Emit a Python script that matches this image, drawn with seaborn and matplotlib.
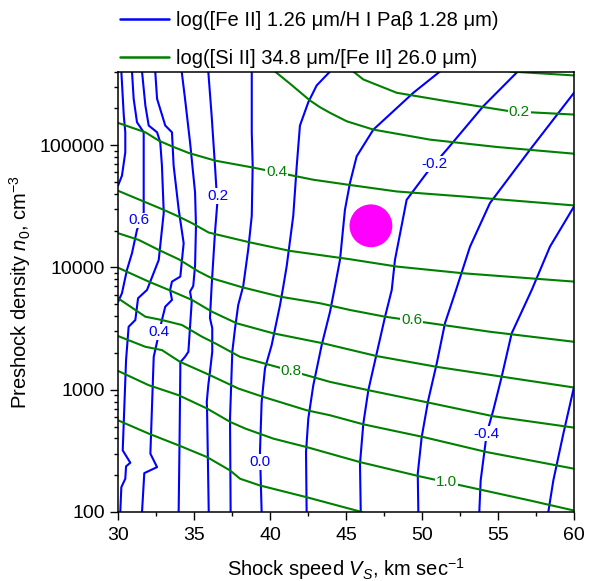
import numpy as np
import pandas as pd
import matplotlib
matplotlib.use("Agg")
import matplotlib.pyplot as plt
from matplotlib.lines import Line2D
from matplotlib.ticker import FixedLocator, FuncFormatter, LogLocator, NullFormatter, MultipleLocator
import seaborn as sns

# ---------------- data ----------------
# Blue contours: log([Fe II] 1.26 um / H I Pa-beta 1.28 um); V in km/s, log10(n0 / cm^-3)
fe_p07_v = [30.22, 30.38, 30.48, 30.48, 30.26, 30.00]
fe_p07_logn = [5.602, 5.242, 5.105, 4.941, 4.750, 4.668]
fe_p06_v = [30.92, 31.03, 31.25, 31.69, 31.69, 31.69, 31.25, 30.92, 30.59, 30.26, 30.00]
fe_p06_logn = [5.602, 5.379, 5.187, 5.105, 4.832, 4.449, 4.307, 4.116, 3.980, 3.789, 3.717]
fe_p05_v = [31.58, 31.80, 32.02, 32.57, 32.78, 32.89, 33.01, 32.68, 31.91, 31.32, 31.14, 30.70,
            30.53, 30.31, 30.81, 30.53, 30.48, 30.22, 30.15]
fe_p05_logn = [5.602, 5.324, 5.160, 5.105, 5.023, 4.832, 4.449, 4.061, 3.816, 3.748, 3.570, 3.515,
               3.242, 2.504, 2.403, 2.373, 2.272, 2.203, 2.000]
fe_p04_v = [32.45, 32.57, 33.11, 33.55, 33.66, 33.99, 34.32, 34.10, 33.55, 33.43, 33.55, 33.11,
            32.89, 32.35, 32.13, 32.57, 31.73, 31.58]
fe_p04_logn = [5.602, 5.379, 5.160, 5.105, 4.832, 4.477, 4.198, 3.925, 3.884, 3.816, 3.734, 3.679,
               3.570, 3.269, 2.477, 2.367, 2.318, 2.000]
fe_p03_v = [34.19, 34.41, 34.74, 35.07, 35.13, 35.07, 34.95, 34.74, 34.85, 34.63, 34.41, 34.10,
            34.10, 34.05, 33.99]
fe_p03_logn = [5.602, 5.379, 5.023, 4.613, 4.340, 4.012, 3.848, 3.802, 3.720, 3.310, 3.269, 3.225,
               3.160, 2.586, 2.000]
fe_p02_v = [35.94, 36.16, 36.38, 36.49, 36.55, 36.38, 36.16, 36.05, 36.20, 36.20, 36.05, 35.94,
            35.84, 35.86, 35.97]
fe_p02_logn = [5.602, 5.242, 4.832, 4.611, 4.553, 4.285, 3.848, 3.586, 3.504, 3.310, 3.146, 3.037,
               2.900, 2.832, 2.000]
fe_p01_v = [38.80, 38.80, 38.86, 38.80, 38.57, 38.24, 37.91, 37.70, 37.52, 37.37, 37.41]
fe_p01_logn = [5.602, 5.105, 4.832, 4.422, 4.149, 3.848, 3.693, 3.502, 3.310, 2.764, 2.000]
fe_00_v = [43.95, 43.07, 42.52, 41.97, 41.76, 41.53, 41.10, 40.88, 40.66, 40.11, 39.67, 39.45,
           39.34, 39.45]
fe_00_logn = [5.602, 5.488, 5.351, 5.160, 4.832, 4.422, 4.012, 3.848, 3.693, 3.365, 3.174, 2.900,
              2.490, 2.000]
fe_m01_v = [51.18, 49.43, 46.80, 45.70, 45.26, 44.93, 44.61, 44.28, 43.95, 43.40, 42.85, 42.52,
            42.37, 42.41]
fe_m01_logn = [5.602, 5.428, 5.127, 4.908, 4.690, 4.471, 4.067, 3.848, 3.638, 3.365, 3.037, 2.764,
               2.490, 2.000]
fe_m02_v = [56.30, 54.03, 51.63, 50.81, 50.31, 48.99, 48.22, 48.01, 47.57, 47.02, 46.47, 46.14,
            45.92, 45.97]
fe_m02_logn = [5.602, 5.318, 4.963, 4.846, 4.772, 4.553, 4.061, 3.816, 3.597, 3.297, 2.996, 2.723,
               2.395, 2.000]
fe_m03_v = [60.00, 57.11, 54.47, 53.16, 52.24, 51.51, 50.97, 50.41, 49.98, 49.72, 49.76]
fe_m03_logn = [5.428, 4.963, 4.526, 4.170, 3.816, 3.543, 3.215, 2.914, 2.613, 2.313, 2.000]
fe_m04_v = [60.00, 58.42, 57.22, 55.90, 55.24, 54.69, 54.26, 53.86, 53.77]
fe_m04_logn = [4.498, 4.170, 3.816, 3.461, 3.105, 2.832, 2.643, 2.258, 2.000]
fe_m05_v = [60.00, 59.30, 58.64, 58.31]
fe_m05_logn = [3.023, 2.641, 2.258, 2.000]

# Green contours: log([Si II] 34.8 um / [Fe II] 26.0 um)
si_01_v = [55.79, 60.00]
si_01_logn = [5.602, 5.570]
si_02_v = [45.48, 46.14, 48.34, 51.63, 55.79, 60.00]
si_02_logn = [5.602, 5.537, 5.428, 5.359, 5.277, 5.250]
si_03_v = [40.33, 41.32, 42.63, 43.29, 43.95, 45.05, 46.80, 50.53, 54.91, 60.00]
si_03_logn = [5.602, 5.502, 5.365, 5.310, 5.264, 5.195, 5.127, 5.045, 4.985, 4.930]
si_04_v = [30.00, 31.80, 32.68, 33.55, 34.65, 36.40, 38.82, 42.85, 45.26, 48.34, 52.72, 60.00]
si_04_logn = [5.182, 5.105, 5.037, 4.990, 4.936, 4.873, 4.818, 4.717, 4.674, 4.621, 4.580, 4.507]
si_05_v = [30.00, 31.58, 32.89, 33.99, 34.87, 35.97, 38.60, 41.32, 45.26, 48.34, 52.72, 60.00]
si_05_logn = [4.627, 4.545, 4.477, 4.416, 4.362, 4.285, 4.207, 4.135, 4.067, 4.007, 3.952, 3.884]
si_06_v = [30.00, 31.36, 32.68, 33.99, 35.31, 36.18, 38.16, 40.66, 43.29, 45.26, 47.57, 54.47, 60.00]
si_06_logn = [4.280, 4.225, 4.143, 4.067, 3.966, 3.911, 3.838, 3.761, 3.707, 3.652, 3.597, 3.474, 3.392]
si_07_v = [30.00, 32.02, 33.34, 34.87, 36.18, 37.81, 40.22, 43.51, 47.02, 50.97, 55.35, 60.00]
si_07_logn = [3.998, 3.884, 3.816, 3.734, 3.638, 3.543, 3.461, 3.379, 3.275, 3.187, 3.105, 3.018]
si_08_v = [30.00, 31.80, 32.89, 34.21, 35.53, 36.40, 38.03, 40.44, 43.95, 46.47, 50.41, 54.69, 60.00]
si_08_logn = [3.748, 3.597, 3.570, 3.529, 3.433, 3.379, 3.269, 3.187, 3.064, 2.996, 2.895, 2.783, 2.690]
si_09_v = [30.00, 31.80, 32.89, 34.08, 36.05, 37.91, 39.56, 42.41, 43.95, 46.14, 50.09, 54.26, 60.00]
si_09_logn = [3.439, 3.351, 3.324, 3.228, 3.119, 3.010, 2.941, 2.832, 2.791, 2.717, 2.613, 2.490, 2.354]
si_10_v = [30.00, 32.02, 33.99, 35.86, 37.39, 38.38, 40.22, 42.41, 43.95, 45.92, 49.87, 57.11, 60.00]
si_10_logn = [3.154, 3.037, 2.955, 2.846, 2.736, 2.682, 2.600, 2.531, 2.477, 2.408, 2.291, 2.094, 2.012]
si_11_v = [30.00, 32.02, 33.99, 35.86, 37.37, 38.03, 39.34, 42.41, 45.26, 46.05]
si_11_logn = [2.750, 2.641, 2.545, 2.449, 2.340, 2.272, 2.217, 2.121, 2.026, 2.000]

# contour labels
fe_label_text = ["0.6", "0.4", "0.2", "0.0", "-0.2", "-0.4"]
fe_label_v = [31.38, 32.70, 36.60, 39.33, 50.81, 54.26]
fe_label_logn = [4.384, 3.471, 4.586, 2.408, 4.846, 2.641]
si_label_text = ["0.2", "0.4", "0.6", "0.8", "1.0"]
si_label_v = [56.40, 40.44, 49.32, 41.38, 51.63]
si_label_logn = [5.273, 4.777, 3.566, 3.154, 2.243]

# observed point
obs_v = [46.64]
obs_n = [21900]

legend_labels = ["log([Fe II] 1.26 \u03bcm/H I Pa\u03b2 1.28 \u03bcm)",
                 "log([Si II] 34.8 \u03bcm/[Fe II] 26.0 \u03bcm)"]
x_ticks = [30, 35, 40, 45, 50, 55, 60]
y_ticks = [100, 1000, 10000, 100000]

BLUE = "#0000FF"
GREEN = "#008000"
MAGENTA = "#FF00FF"

# ---------------- style ----------------
sns.set_theme(style="ticks")
plt.rcParams["font.family"] = ["Liberation Sans", "DejaVu Sans"]
plt.rcParams["mathtext.fontset"] = "custom"
plt.rcParams["mathtext.rm"] = "Liberation Sans"
plt.rcParams["mathtext.it"] = "Liberation Sans:italic"
plt.rcParams["mathtext.bf"] = "Liberation Sans:bold"
plt.rcParams["axes.edgecolor"] = "black"
plt.rcParams["text.color"] = "black"
plt.rcParams["xtick.color"] = "black"
plt.rcParams["ytick.color"] = "black"
plt.rcParams["axes.labelcolor"] = "black"

fe_lines = [("0.7", fe_p07_v, fe_p07_logn), ("0.6", fe_p06_v, fe_p06_logn),
            ("0.5", fe_p05_v, fe_p05_logn), ("0.4", fe_p04_v, fe_p04_logn),
            ("0.3", fe_p03_v, fe_p03_logn), ("0.2", fe_p02_v, fe_p02_logn),
            ("0.1", fe_p01_v, fe_p01_logn), ("0.0", fe_00_v, fe_00_logn),
            ("-0.1", fe_m01_v, fe_m01_logn), ("-0.2", fe_m02_v, fe_m02_logn),
            ("-0.3", fe_m03_v, fe_m03_logn), ("-0.4", fe_m04_v, fe_m04_logn),
            ("-0.5", fe_m05_v, fe_m05_logn)]
si_lines = [("0.1", si_01_v, si_01_logn), ("0.2", si_02_v, si_02_logn),
            ("0.3", si_03_v, si_03_logn), ("0.4", si_04_v, si_04_logn),
            ("0.5", si_05_v, si_05_logn), ("0.6", si_06_v, si_06_logn),
            ("0.7", si_07_v, si_07_logn), ("0.8", si_08_v, si_08_logn),
            ("0.9", si_09_v, si_09_logn), ("1.0", si_10_v, si_10_logn),
            ("1.1", si_11_v, si_11_logn)]

rows = []
for fam, lines in (("fe", fe_lines), ("si", si_lines)):
    for lev, vs, lns in lines:
        for i, (v, ln) in enumerate(zip(vs, lns)):
            rows.append({"family": fam, "level": fam + lev, "order": i, "V": v, "n": 10 ** ln})
df = pd.DataFrame(rows)

fig = plt.figure(figsize=(5.89, 5.81), dpi=100)
ax = fig.add_axes([118 / 589, 1 - 512 / 581, 456 / 589, 440.5 / 581])
ax.set_yscale("log")

sns.lineplot(data=df, x="V", y="n", hue="family", units="level", estimator=None,
             sort=False, palette={"fe": BLUE, "si": GREEN}, linewidth=1.5,
             legend=False, ax=ax)

sns.scatterplot(x=obs_v, y=obs_n, s=950, color=MAGENTA, edgecolor="none",
                linewidth=0, ax=ax, zorder=6)

for txt, v, ln in zip(fe_label_text, fe_label_v, fe_label_logn):
    ax.text(v, 10 ** ln, txt, color=BLUE, fontsize=11, ha="center", va="center", zorder=5,
            bbox=dict(facecolor="white", edgecolor="none", pad=0.6))
for txt, v, ln in zip(si_label_text, si_label_v, si_label_logn):
    ax.text(v, 10 ** ln, txt, color=GREEN, fontsize=11, ha="center", va="center", zorder=5,
            bbox=dict(facecolor="white", edgecolor="none", pad=0.6))

ax.set_xlim(30, 60)
ax.set_ylim(100, 4e5)
ax.xaxis.set_major_locator(FixedLocator(x_ticks))
ax.xaxis.set_minor_locator(MultipleLocator(2.5))
ax.yaxis.set_major_locator(FixedLocator(y_ticks))
ax.yaxis.set_major_formatter(FuncFormatter(lambda v, p: f"{v:.0f}"))
ax.yaxis.set_minor_locator(LogLocator(base=10, subs=np.arange(2, 10)))
ax.yaxis.set_minor_formatter(NullFormatter())
ax.tick_params(axis="both", which="major", direction="out", length=5.5, width=1.0,
               labelsize=14, top=False, right=False)
ax.tick_params(axis="x", which="major", pad=5)
ax.tick_params(axis="y", which="major", pad=4)
ax.tick_params(axis="x", which="minor", direction="out", length=2.8, width=1.0, top=False)
ax.tick_params(axis="y", which="minor", direction="out", length=3.0, width=1.0, right=False)
for s in ax.spines.values():
    s.set_linewidth(1.1)
    s.set_color("black")
    s.set_visible(True)

ax.set_xlabel("Shock speed $V_S$, km sec$^{-1}$", fontsize=14.5, labelpad=9)
ax.set_ylabel("Preshock density $n_0$, cm$^{-3}$", fontsize=14.5, labelpad=5)

handles = [Line2D([0], [0], color=BLUE, lw=1.8), Line2D([0], [0], color=GREEN, lw=1.8)]
fig.legend(handles, legend_labels, loc="upper left", bbox_to_anchor=(120 / 589, 1 - 11 / 581),
           frameon=False, fontsize=14.5, handlelength=2.45, handletextpad=0.35,
           labelspacing=0.95, borderpad=0, borderaxespad=0)

fig.savefig("out.png", dpi=100, facecolor="white")
